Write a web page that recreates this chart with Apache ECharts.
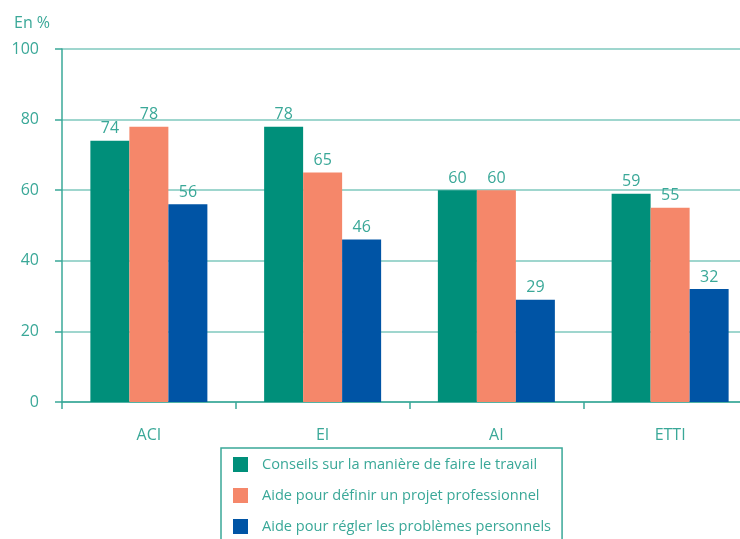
<!DOCTYPE html>
<html><head><meta charset="utf-8">
<script src="https://cdn.jsdelivr.net/npm/echarts@6/dist/echarts.min.js"></script>
<style>html,body{margin:0;padding:0;background:#fff;overflow:hidden;width:740px;height:539px}#c{width:757px;height:570px}</style>
</head><body><div id="c"></div>
<script>
const categories = ['ACI', 'EI', 'AI', 'ETTI'];
const seriesNames = ['Conseils sur la manière de faire le travail', 'Aide pour définir un projet professionnel', 'Aide pour régler les problèmes personnels'];
const conseils = [74, 78, 60, 59];
const projet = [78, 65, 60, 55];
const problemes = [56, 46, 29, 32];
const yTicks = [0, 20, 40, 60, 80, 100];

const colors = ['#008F7A', '#F5876A', '#0054A5'];
const teal = '#3AA898';
const font = '"Open Sans", "Noto Sans", sans-serif';
const chart = echarts.init(document.getElementById('c'));
const data = [conseils, projet, problemes];
chart.setOption({
  animation: false,
  textStyle: {fontFamily: font},
  title: {text: 'En %', left: 9, top: 10, textStyle: {color: teal, fontSize: 16, fontWeight: 'normal', fontFamily: font}},
  grid: {left: 62, right: 0, top: 49, bottom: 168, containLabel: false},
  legend: {
    orient: 'vertical', left: 221, top: 448,
    data: seriesNames,
    itemWidth: 15, itemHeight: 15, itemGap: 16,
    icon: 'rect',
    padding: [9, 11, 9, 12],
    borderColor: '#3AA898', borderWidth: 1.5,
    textStyle: {color: teal, fontSize: 14.6, fontFamily: font, padding: [0, 0, 0, 9]}
  },
  xAxis: {
    type: 'category', data: categories,
    axisLine: {lineStyle: {color: '#3AA898', width: 1.5}},
    axisTick: {show: true, length: 7, lineStyle: {color: '#3AA898', width: 1.5}},
    axisLabel: {color: teal, fontSize: 16, margin: 25, fontFamily: font}
  },
  yAxis: {
    type: 'value', min: 0, max: 100, interval: 20,
    axisLine: {show: true, lineStyle: {color: '#3AA898', width: 1.5}},
    axisTick: {show: true, length: 7, lineStyle: {color: '#3AA898', width: 1.5}},
    axisLabel: {color: teal, fontSize: 16, margin: 23, fontFamily: font,
      formatter: v => yTicks.includes(v) ? String(v) : ''},
    splitLine: {show: true, lineStyle: {color: '#7FC8BE', width: 1.5}}
  },
  series: seriesNames.map((n, i) => ({
    name: n, type: 'bar', data: data[i],
    barWidth: 39, barGap: '0%',
    itemStyle: {color: colors[i]},
    label: {show: true, position: 'top', distance: 4, color: teal, fontSize: 16, fontFamily: font}
  }))
});
</script></body></html>
